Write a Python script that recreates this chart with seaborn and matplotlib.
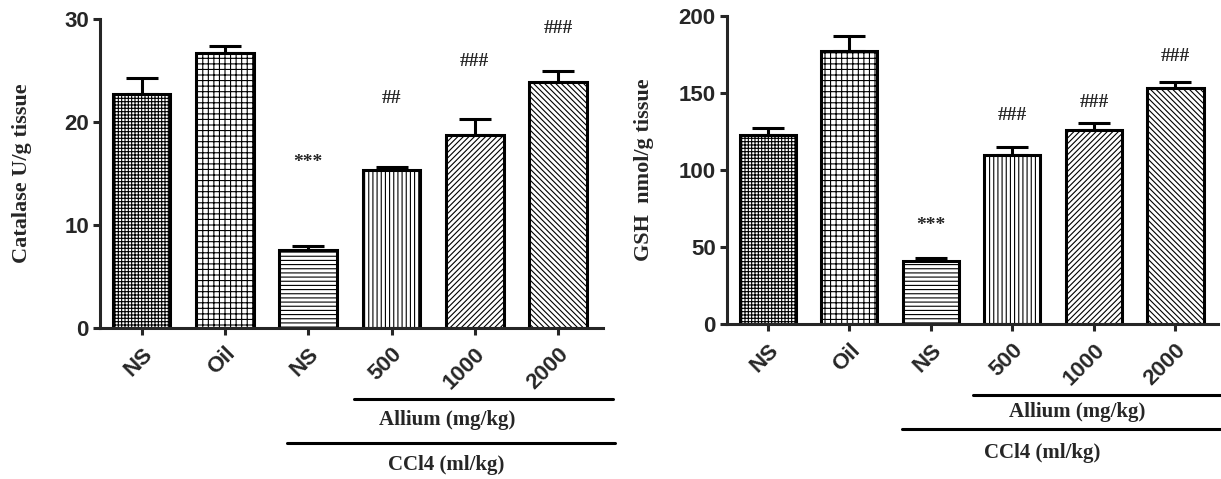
import matplotlib
matplotlib.use("Agg")
from matplotlib import pyplot as plt
import pandas as pd
import seaborn as sns
import numpy as np

# groups on the x axis (keys must be unique, labels may repeat)
group_keys = ["ns_ctrl", "oil", "ns_ccl4", "a500", "a1000", "a2000"]
group_labels = ["NS", "Oil", "NS", "500", "1000", "2000"]

# catalase (U/g tissue), mean and SEM
catalase_mean = [22.7, 26.7, 7.55, 15.3, 18.7, 23.9]
catalase_sem = [1.6, 0.7, 0.45, 0.35, 1.55, 1.1]
catalase_marks = ["", "", "***", "##", "###", "###"]
catalase_mark_y = [0, 0, 16.1, 22.3, 25.85, 29.1]

# GSH (nmol/g tissue), mean and SEM
gsh_mean = [123.0, 177.6, 41.0, 109.6, 125.8, 153.6]
gsh_sem = [4.3, 9.7, 1.7, 5.4, 4.7, 3.9]
gsh_marks = ["", "", "***", "###", "###", "###"]
gsh_mark_y = [0, 0, 64.1, 135.3, 143.9, 174.0]

hatches = ["+++++", "+++", "----", "||||", "//////", "\\\\\\\\\\\\"]

sns.set_style("ticks")
plt.rcParams["font.family"] = ["Liberation Sans", "DejaVu Sans"]
plt.rcParams["hatch.linewidth"] = 0.8

LW = 2.2
serif = ["Liberation Serif", "DejaVu Serif"]


def draw_panel(ax, means, sems, marks, mark_y, ylim, yticks, ylabel, lines, ylab_x):
    df = pd.DataFrame({"group": group_keys, "value": means})
    x = np.arange(len(group_keys))
    ax.errorbar(x, means, yerr=[np.zeros(len(sems)), sems], fmt="none",
                ecolor="black", elinewidth=LW, capsize=11.5, capthick=LW, zorder=1)
    sns.barplot(data=df, x="group", y="value", order=group_keys, color="white",
                edgecolor="black", linewidth=LW, width=0.69, saturation=1,
                errorbar=None, ax=ax, zorder=2)
    for patch, h in zip(ax.patches, hatches):
        patch.set_hatch(h)
        patch.set_facecolor("white")
        patch.set_zorder(2)

    for i, (m, yv) in enumerate(zip(marks, mark_y)):
        if m:
            ax.text(i, yv, m, ha="center", va="center", fontsize=14,
                    fontweight="bold", family=serif)

    ax.set_xlim(-0.5, 5.54)
    ax.set_ylim(*ylim)
    ax.set_yticks(yticks)
    ax.set_xticks(x)
    ax.set_xticklabels(group_labels, rotation=45, ha="right", rotation_mode="anchor",
                       fontsize=16, fontweight="bold")
    for lab in ax.get_yticklabels():
        lab.set_fontsize(16)
        lab.set_fontweight("bold")
    ax.tick_params(axis="both", direction="out", length=5, width=LW, pad=3)
    ax.tick_params(axis="x", pad=6)
    ax.set_xlabel("")
    ax.set_ylabel("")
    ax.text(ylab_x, 0.5, ylabel, transform=ax.transAxes, rotation=90, ha="center",
            va="center", fontsize=16, fontweight="bold", family=serif)
    sns.despine(ax=ax)
    for s in ["left", "bottom"]:
        ax.spines[s].set_linewidth(LW)

    tr = ax.get_xaxis_transform()
    for x0, x1, ly, text, tx, ty in lines:
        ax.plot([x0, x1], [ly, ly], color="black", lw=LW, transform=tr, clip_on=False)
        ax.text(tx, ty, text, transform=tr, ha="center", va="center", fontsize=15,
                fontweight="bold", family=serif)


fig = plt.figure(figsize=(12.21, 4.79), dpi=100)
ax1 = fig.add_axes([0.0819, 0.3152, 0.412, 0.645])
ax2 = fig.add_axes([0.5954, 0.323, 0.402, 0.6436])

draw_panel(ax1, catalase_mean, catalase_sem, catalase_marks, catalase_mark_y,
           (0, 30), [0, 10, 20, 30], "Catalase U/g tissue",
           [(2.55, 5.66, -0.23, "Allium (mg/kg)", 3.67, -0.298),
            (1.75, 5.68, -0.372, "CCl4 (ml/kg)", 3.66, -0.443)], -0.155)
draw_panel(ax2, gsh_mean, gsh_sem, gsh_marks, gsh_mark_y,
           (0, 200), [0, 50, 100, 150, 200], "GSH  nmol/g tissue",
           [(2.52, 5.6, -0.229, "Allium (mg/kg)", 3.79, -0.284),
            (1.65, 5.6, -0.34, "CCl4 (ml/kg)", 3.37, -0.417)], -0.17)
ax2.set_xlim(-0.5, 5.52)

fig.savefig("out.png", dpi=100)
